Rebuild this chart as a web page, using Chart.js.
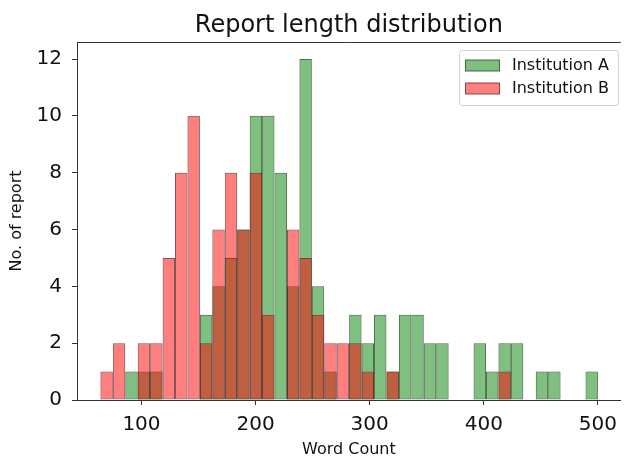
<!DOCTYPE html>
<html>
<head>
<meta charset="utf-8">
<script src="https://cdn.jsdelivr.net/npm/chart.js@4"></script>
<style>
  body { margin: 0; background: #fff; }
  canvas { display: block; }
</style>
</head>
<body>
<canvas id="chart" width="625" height="459"></canvas>
<script>
// histogram bin edges (word count), 40 bins
const binEdges = [
  64.0, 74.9, 85.8, 96.7, 107.6, 118.5, 129.4, 140.3, 151.2, 162.1,
  173.0, 183.9, 194.8, 205.7, 216.6, 227.5, 238.4, 249.3, 260.2, 271.1,
  282.0, 292.9, 303.8, 314.7, 325.6, 336.5, 347.4, 358.3, 369.2, 380.1,
  391.0, 401.9, 412.8, 423.7, 434.6, 445.5, 456.4, 467.3, 478.2, 489.1, 500.0
];

// counts per bin
const institutionA = [
  0, 0, 1, 1, 1, 0, 0, 0, 3, 4,
  5, 6, 10, 10, 8, 4, 12, 4, 1, 0,
  3, 2, 3, 1, 3, 3, 2, 2, 0, 0,
  2, 1, 2, 2, 0, 1, 1, 0, 0, 1
];
const institutionB = [
  1, 2, 0, 2, 2, 5, 8, 10, 2, 6,
  8, 6, 8, 3, 0, 6, 5, 3, 2, 2,
  2, 1, 0, 1, 0, 0, 0, 0, 0, 0,
  0, 0, 1, 0, 0, 0, 0, 0, 0, 0
];

const xTicks = [100, 200, 300, 400, 500];
const yTicks = [0, 2, 4, 6, 8, 10, 12];

const binCenters = binEdges.slice(0, -1).map((e, i) => (e + binEdges[i + 1]) / 2);
const toPoints = (counts) => counts.map((c, i) => ({ x: binCenters[i], y: c }));

Chart.defaults.font.family = "'DejaVu Sans', sans-serif";
Chart.defaults.color = "#111";

// matplotlib style legend box inside the axes + top spine
const boxLegend = {
  id: "boxLegend",
  afterLayout(chart) {
    // centre the title over the plot area like matplotlib does
    if (chart.titleBlock) {
      chart.titleBlock.left = chart.chartArea.left;
      chart.titleBlock.right = chart.chartArea.right;
    }
  },
  afterDatasetsDraw(chart) {
    const ctx = chart.ctx;
    const area = chart.chartArea;
    ctx.save();
    ctx.strokeStyle = "#333";
    ctx.lineWidth = 1;
    ctx.beginPath();
    ctx.moveTo(area.left, area.top + 0.5);
    ctx.lineTo(area.right, area.top + 0.5);
    ctx.stroke();

    const x = 459.5, y = 50.5, w = 159, h = 55;
    ctx.fillStyle = "rgba(255,255,255,0.8)";
    ctx.strokeStyle = "#d0d0d0";
    ctx.beginPath();
    ctx.roundRect(x, y, w, h, 3);
    ctx.fill();
    ctx.stroke();

    ctx.font = "16px 'DejaVu Sans'";
    ctx.textBaseline = "middle";
    chart.data.datasets.forEach((ds, i) => {
      const rowY = 65.5 + i * 23;
      ctx.fillStyle = ds.backgroundColor;
      ctx.fillRect(465.5, rowY - 5.5, 34, 11);
      ctx.strokeStyle = ds.borderColor;
      ctx.strokeRect(465.5, rowY - 5.5, 34, 11);
      ctx.fillStyle = "#111";
      ctx.fillText(ds.label, 512, rowY);
    });
    ctx.restore();
  }
};

new Chart(document.getElementById("chart"), {
  type: "bar",
  data: {
    datasets: [
      {
        label: "Institution A",
        data: toPoints(institutionA),
        backgroundColor: "rgba(0,128,0,0.5)",
        borderColor: "rgba(35,70,35,0.8)",
        borderWidth: 1,
        order: 1
      },
      {
        label: "Institution B",
        data: toPoints(institutionB),
        backgroundColor: "rgba(255,0,0,0.5)",
        borderColor: "rgba(100,40,40,0.8)",
        borderWidth: 1,
        order: 0
      }
    ]
  },
  options: {
    responsive: false,
    animation: false,
    layout: { padding: 0 },
    datasets: {
      bar: {
        grouped: false,
        barPercentage: 1,
        categoryPercentage: 1,
        borderSkipped: false,
        inflateAmount: 0
      }
    },
    plugins: {
      legend: { display: false },
      tooltip: { enabled: false },
      title: {
        display: true,
        text: "Report length distribution",
        font: { size: 24, weight: "normal" },
        color: "#111",
        padding: { top: 11.6, bottom: 1.6 }
      }
    },
    scales: {
      x: {
        type: "linear",
        min: 43.5,
        max: 520,
        offset: false,
        afterBuildTicks: (s) => { s.ticks = xTicks.map((v) => ({ value: v })); },
        afterFit: (s) => { s.height = 59; },
        ticks: { font: { size: 20 }, padding: 8, maxRotation: 0, autoSkip: false, color: "#111" },
        grid: { offset: false, drawOnChartArea: false, drawTicks: true, tickLength: 5, color: "#333" },
        border: { display: true, color: "#333" },
        title: { display: true, text: "Word Count", font: { size: 16 }, padding: { top: 0, bottom: 0 }, color: "#111" }
      },
      y: {
        min: 0,
        max: 12.6,
        afterBuildTicks: (s) => { s.ticks = yTicks.map((v) => ({ value: v })); },
        afterFit: (s) => { s.width = 77; },
        ticks: { font: { size: 20 }, padding: 10, color: "#111" },
        grid: { offset: false, drawOnChartArea: false, drawTicks: true, tickLength: 5, color: "#333" },
        border: { display: true, color: "#333" },
        title: { display: true, text: "No. of report", font: { size: 16 }, padding: { top: 7, bottom: 0 }, color: "#111" }
      }
    }
  },
  plugins: [boxLegend]
});
</script>
</body>
</html>
